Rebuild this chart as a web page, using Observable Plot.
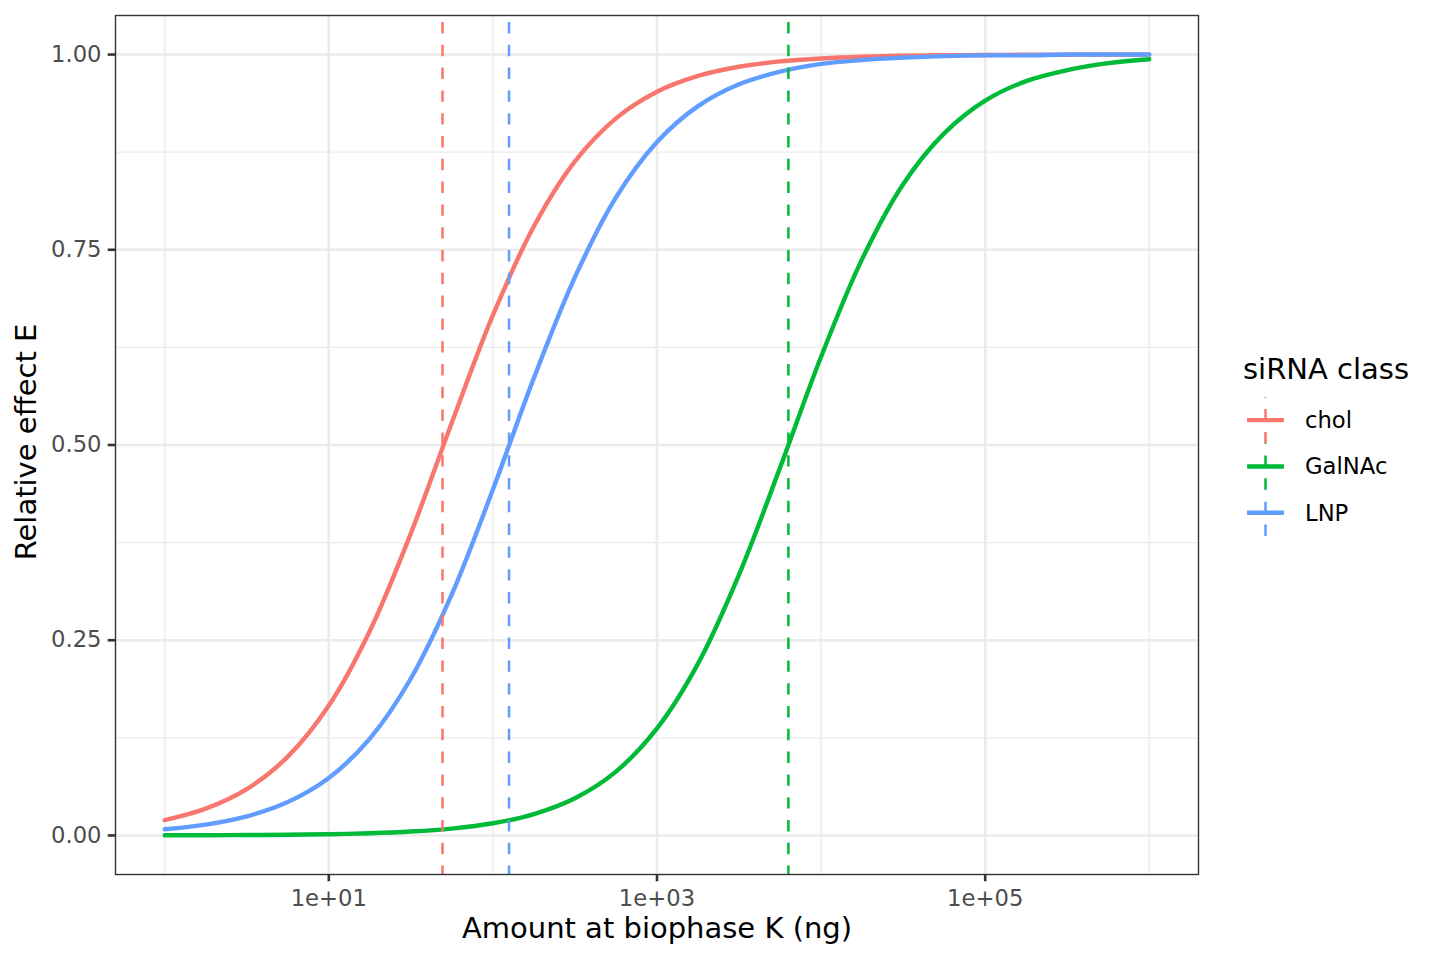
<!DOCTYPE html>
<html>
<head>
<meta charset="utf-8">
<script src="https://cdn.jsdelivr.net/npm/d3@7"></script>
<script src="https://cdn.jsdelivr.net/npm/@observablehq/plot@0.6"></script>
<style>
  html, body { margin: 0; padding: 0; background: #ffffff; }
  #wrap { position: relative; width: 1440px; height: 960px; font-family: "DejaVu Sans", sans-serif; }
  #wrap > svg.legend { position: absolute; left: 0; top: 0; pointer-events: none; }
</style>
</head>
<body>
<div id="wrap"></div>
<script>
// ---- data ----
const amount = [1, 1.778, 3.162, 5.623, 10, 17.78, 31.62, 56.23, 100, 177.8, 316.2, 562.3,
  1000, 1778, 3162, 5623, 10000, 17780, 31620, 56230, 100000, 177800, 316200, 562300, 1000000];
const effectChol = [0.0196, 0.0343, 0.0593, 0.1009, 0.1663, 0.2619, 0.3869, 0.5288, 0.6662, 0.7801, 0.8632, 0.9182,
  0.9523, 0.9726, 0.9844, 0.9912, 0.9950, 0.9972, 0.9984, 0.9991, 0.9995, 0.9997, 0.9998, 0.9999, 0.9999];
const effectGalNAc = [0.0002, 0.0003, 0.0005, 0.0009, 0.0016, 0.0028, 0.0050, 0.0088, 0.0156, 0.0274, 0.0477, 0.0818,
  0.137, 0.220, 0.334, 0.471, 0.613, 0.738, 0.834, 0.899, 0.941, 0.966, 0.980, 0.989, 0.994];
const effectLNP = [0.0079, 0.0139, 0.0245, 0.0428, 0.0736, 0.124, 0.201, 0.309, 0.443, 0.586, 0.715, 0.817,
  0.888, 0.934, 0.962, 0.978, 0.988, 0.993, 0.996, 0.998, 0.999, 0.999, 1.000, 1.000, 1.000];
const classes = ["chol", "GalNAc", "LNP"];
const classColors = ["#F8766D", "#00BA38", "#619CFF"];
const ec50 = [49.3, 6320, 125.4];

const xTicks = [10, 1000, 100000];
const xTickLabels = ["1e+01", "1e+03", "1e+05"];
const xMinor = [1, 100, 10000, 1000000];
const yTicks = [0, 0.25, 0.5, 0.75, 1];
const yTickLabels = ["0.00", "0.25", "0.50", "0.75", "1.00"];
const yMinor = [0.125, 0.375, 0.625, 0.875];

const xTitle = "Amount at biophase K (ng)";
const yTitle = "Relative effect E";
const legendTitle = "siRNA class";

// ---- tables built from the arrays ----
const series = [effectChol, effectGalNAc, effectLNP];
const rows = classes.flatMap((c, k) => amount.map((a, i) => ({cls: c, amount: a, effect: series[k][i]})));
const vlines = classes.map((c, k) => ({cls: c, ec50: ec50[k]}));

const FONT = '"DejaVu Sans", sans-serif';
const grid = "#EBEBEB";

const plot = Plot.plot({
  width: 1440,
  height: 960,
  marginLeft: 115,
  marginRight: 242,
  marginTop: 15,
  marginBottom: 86,
  style: {fontFamily: FONT, background: "#ffffff", color: "#000000", overflow: "visible"},
  x: {type: "log", domain: [Math.pow(10, -0.3), Math.pow(10, 6.3)]},
  y: {domain: [-0.05, 1.05]},
  color: {domain: classes, range: classColors},
  marks: [
    Plot.ruleX(xMinor, {stroke: grid, strokeWidth: 1.35}),
    Plot.ruleY(yMinor, {stroke: grid, strokeWidth: 1.35}),
    Plot.ruleX(xTicks, {stroke: grid, strokeWidth: 2.6}),
    Plot.ruleY(yTicks, {stroke: grid, strokeWidth: 2.6}),
    Plot.line(rows, {x: "amount", y: "effect", z: "cls", stroke: "cls", strokeWidth: 4.4, curve: "catmull-rom"}),
    Plot.ruleX(vlines, {x: "ec50", stroke: "cls", strokeWidth: 2.5,
      strokeDasharray: "11.4,11.4", strokeDashoffset: 15.8}),
    Plot.frame({stroke: "#333333", strokeWidth: 1.4}),
    Plot.axisX(xTicks, {tickSize: 7.3, stroke: "#333333", strokeWidth: 2.6, fill: "none", label: null}),
    Plot.axisX(xTicks, {tickSize: 0, tickPadding: 15, fill: "#4D4D4D", fontSize: 22.7, label: null,
      tickFormat: d => xTickLabels[xTicks.indexOf(d)]}),
    Plot.axisY(yTicks, {tickSize: 7.3, stroke: "#333333", strokeWidth: 2.6, fill: "none", label: null}),
    Plot.axisY(yTicks, {tickSize: 0, tickPadding: 14, fill: "#4D4D4D", fontSize: 22.7, label: null,
      tickFormat: d => yTickLabels[yTicks.indexOf(d)]}),
    Plot.text([xTitle], {text: d => d, frameAnchor: "bottom", textAnchor: "middle", lineAnchor: "middle",
      dy: 54.7, fontSize: 29, fill: "#000000"}),
    Plot.text([yTitle], {text: d => d, frameAnchor: "left", textAnchor: "middle", lineAnchor: "middle",
      rotate: -90, dx: -88.5, dy: -3, fontSize: 29, fill: "#000000"})
  ]
});

const wrap = document.getElementById("wrap");
wrap.appendChild(plot);

// ---- legend (right side, ggplot style) ----
const leg = d3.create("svg")
  .attr("class", "legend")
  .attr("width", 1440)
  .attr("height", 960)
  .style("font-family", FONT);

leg.append("text")
  .attr("x", 1243).attr("y", 379)
  .attr("font-size", 29)
  .attr("fill", "#000")
  .text(legendTitle);

const keyH = 46.3, keyTop0 = 397, keyLeft = 1242.5, keyW = 46;
classes.forEach((c, i) => {
  const top = keyTop0 + i * keyH;
  const mid = top + keyH / 2;
  const cx = keyLeft + keyW / 2;
  leg.append("line")
    .attr("x1", keyLeft + keyW * 0.1).attr("x2", keyLeft + keyW * 0.9)
    .attr("y1", mid).attr("y2", mid)
    .attr("stroke", classColors[i]).attr("stroke-width", 4.4);
  leg.append("line")
    .attr("x1", cx).attr("x2", cx)
    .attr("y1", top + keyH).attr("y2", top)
    .attr("stroke", classColors[i]).attr("stroke-width", 2.5)
    .attr("stroke-dasharray", "11.4,11.4");
  leg.append("text")
    .attr("x", 1305).attr("y", mid + 8)
    .attr("font-size", 22.7)
    .attr("fill", "#000")
    .text(c);
});

wrap.appendChild(leg.node());
</script>
</body>
</html>
